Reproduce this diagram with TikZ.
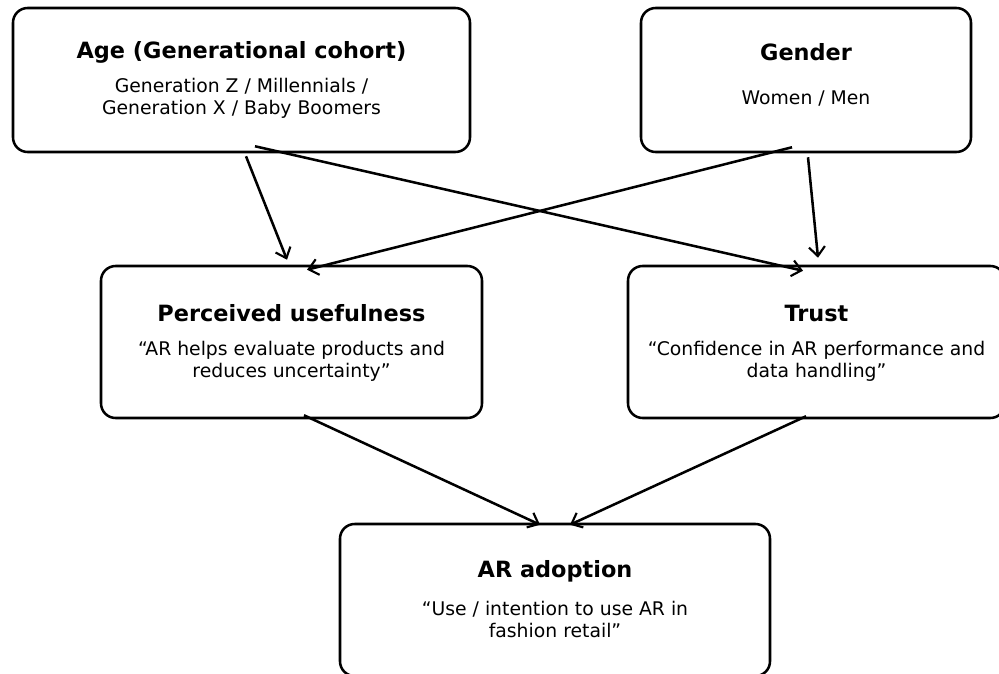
\documentclass[tikz,border=0pt]{standalone}
\usepackage{fontspec}
\setmainfont{DejaVu Sans}
\usetikzlibrary{arrows.meta,calc}
\begin{document}
\begin{tikzpicture}[x=0.75pt,y=-0.75pt,
  box/.style={draw,line width=1.9pt,rounded corners=11pt,inner sep=0pt},
  ttl/.style={font=\fontsize{16.8}{19}\selectfont\bfseries,align=center,inner sep=0pt},
  bdy/.style={font=\fontsize{14.1}{16.4}\selectfont,align=center,inner sep=0pt},
  arr/.style={line width=1.9pt,-{Straight Barb[length=7pt,width=12pt,line width=1.6pt]}}]
\useasboundingbox (0,0) rectangle (999,674);
\node[box,minimum width=457*0.75pt,minimum height=144*0.75pt] (age) at (241.5,80) {};
\node[box,minimum width=330*0.75pt,minimum height=144*0.75pt] (gen) at (806,80) {};
\node[box,minimum width=381*0.75pt,minimum height=152*0.75pt] (pu) at (291.5,342) {};
\node[box,minimum width=377*0.75pt,minimum height=152*0.75pt] (tr) at (816.5,342) {};
\node[box,minimum width=430*0.75pt,minimum height=152*0.75pt] (ar) at (555,600) {};
\node[ttl] (agetitle) at ($(age.center)+(0,-28)$) {Age (Generational cohort)};
\node[bdy] (agebody) at ($(age.center)+(0,18.5)$) {Generation Z / Millennials /\\Generation X / Baby Boomers};
\node[ttl] (gentitle) at ($(gen.center)+(0,-28)$) {Gender};
\node[bdy] (genbody) at ($(gen.center)+(0,18.5)$) {Women / Men};
\node[ttl] (putitle) at ($(pu.center)+(0,-29)$) {Perceived usefulness};
\node[bdy] (pubody) at ($(pu.center)+(0,19.5)$) {“AR helps evaluate products and\\reduces uncertainty”};
\node[ttl] (trtitle) at ($(tr.center)+(0,-29)$) {Trust};
\node[bdy] (trbody) at ($(tr.center)+(0,19.5)$) {“Confidence in AR performance and\\data handling”};
\node[ttl] (artitle) at ($(ar.center)+(0,-29)$) {AR adoption};
\node[bdy] (arbody) at ($(ar.center)+(0,19.5)$) {“Use / intention to use AR in\\fashion retail”};
\draw[arr] ($(age.south)+(4.5,3)$) -- ($(pu.north)+(-4.5,-5)$);
\draw[arr] ($(age.south)+(13.5,-7)$) -- ($(tr.north)+(-13.5,6)$);
\draw[arr] ($(gen.south)+(-14,-6)$) -- ($(pu.north)+(15.5,5)$);
\draw[arr] ($(gen.south)+(2,4)$) -- ($(tr.north)+(1.5,-7)$);
\draw[arr] ($(pu.south)+(12.5,-4)$) -- ($(ar.north)+(-15,2)$);
\draw[arr] ($(tr.south)+(-10.5,-3)$) -- ($(ar.north)+(15,2)$);
\end{tikzpicture}
\end{document}
